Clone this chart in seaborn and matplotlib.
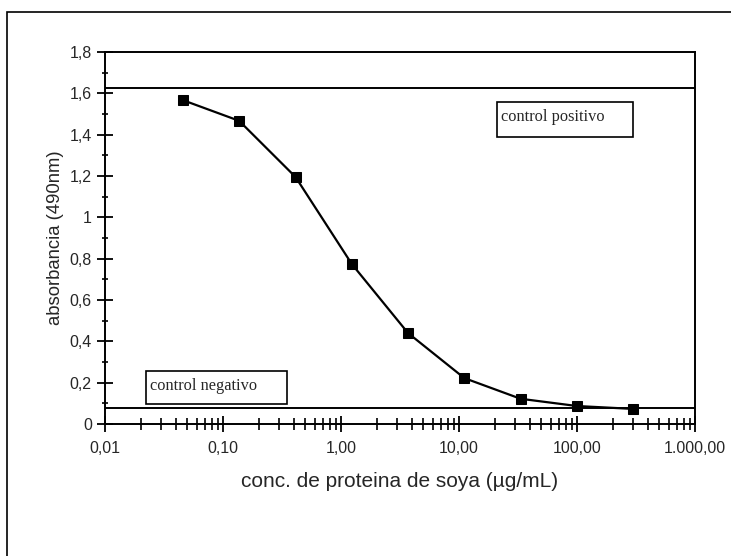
import numpy as np
import pandas as pd
import matplotlib
matplotlib.use("Agg")
import matplotlib.pyplot as plt
import matplotlib.ticker as mticker
from matplotlib.patches import Rectangle
import seaborn as sns

# datos (diluciones 1:3)
conc = [0.0457, 0.137, 0.412, 1.235, 3.70, 11.1, 33.3, 100.0, 300.0]
absorb = [1.567, 1.467, 1.195, 0.774, 0.440, 0.222, 0.122, 0.087, 0.073]
control_pos = 1.625
control_neg = 0.078

xticks = [0.01, 0.1, 1, 10, 100, 1000]
xtick_labels = ["0,01", "0,10", "1,00", "10,00", "100,00", "1.000,00"]
yticks = [0, 0.2, 0.4, 0.6, 0.8, 1.0, 1.2, 1.4, 1.6, 1.8]
ytick_labels = ["0", "0,2", "0,4", "0,6", "0,8", "1", "1,2", "1,4", "1,6", "1,8"]

df = pd.DataFrame({"conc": conc, "abs": absorb})

sns.set_style("white")
plt.rcParams["font.family"] = ["Liberation Sans", "DejaVu Sans"]

fig = plt.figure(figsize=(7.31, 5.56), dpi=100)
ax = fig.add_axes([105 / 731, 1 - 424 / 556, 590 / 731, 372 / 556])

# marco exterior de la figura (cortado a la derecha y abajo)
fig.patches.append(Rectangle((7 / 731, -0.1), 1.2, 1.1 - 12 / 556,
                             transform=fig.transFigure, fill=False,
                             edgecolor="black", linewidth=1.2))

sns.lineplot(data=df, x="conc", y="abs", ax=ax, color="black", linewidth=1.6,
             marker="s", markersize=7, markeredgecolor="black")

ax.axhline(control_pos, color="black", linewidth=1.4)
ax.axhline(control_neg, color="black", linewidth=1.4)

ax.set_xscale("log")
ax.set_xlim(0.01, 1000)
ax.set_ylim(0, 1.8)

ax.xaxis.set_major_locator(mticker.FixedLocator(xticks))
ax.xaxis.set_major_formatter(mticker.FixedFormatter(xtick_labels))
ax.xaxis.set_minor_locator(mticker.LogLocator(base=10, subs=np.arange(2, 10)))
ax.xaxis.set_minor_formatter(mticker.NullFormatter())
ax.yaxis.set_major_locator(mticker.FixedLocator(yticks))
ax.yaxis.set_major_formatter(mticker.FixedFormatter(ytick_labels))
ax.yaxis.set_minor_locator(mticker.MultipleLocator(0.1))

ax.tick_params(axis="both", which="major", direction="inout", length=11,
               width=1.3, color="black", labelsize=11.5,
               bottom=True, left=True, top=False, right=False)
ax.tick_params(axis="x", which="major", pad=7)
ax.tick_params(axis="y", which="major", pad=4)
ax.tick_params(axis="x", which="minor", direction="inout", length=8,
               width=1.2, color="black", bottom=True)
ax.tick_params(axis="y", which="minor", direction="inout", length=5,
               width=1.2, color="black", left=True)

for sp in ax.spines.values():
    sp.set_visible(True)
    sp.set_color("black")
    sp.set_linewidth(1.4)

ax.set_xlabel("conc. de proteina de soya (µg/mL)", fontsize=15, labelpad=11)
ax.set_ylabel("absorbancia (490nm)", fontsize=13.3, labelpad=4)

# cuadros de texto de los controles
box_pos = Rectangle((0.664, 0.771), 0.231, 0.095, transform=ax.transAxes,
                    fill=False, edgecolor="black", linewidth=1.2)
box_neg = Rectangle((0.069, 0.054), 0.239, 0.088, transform=ax.transAxes,
                    fill=False, edgecolor="black", linewidth=1.2)
ax.add_patch(box_pos)
ax.add_patch(box_neg)
ax.text(0.671, 0.825, "control positivo", transform=ax.transAxes,
        fontsize=11.8, family=["Liberation Serif"], va="center", ha="left")
ax.text(0.076, 0.103, "control negativo", transform=ax.transAxes,
        fontsize=11.8, family=["Liberation Serif"], va="center", ha="left")

fig.savefig("out.png", dpi=100)
